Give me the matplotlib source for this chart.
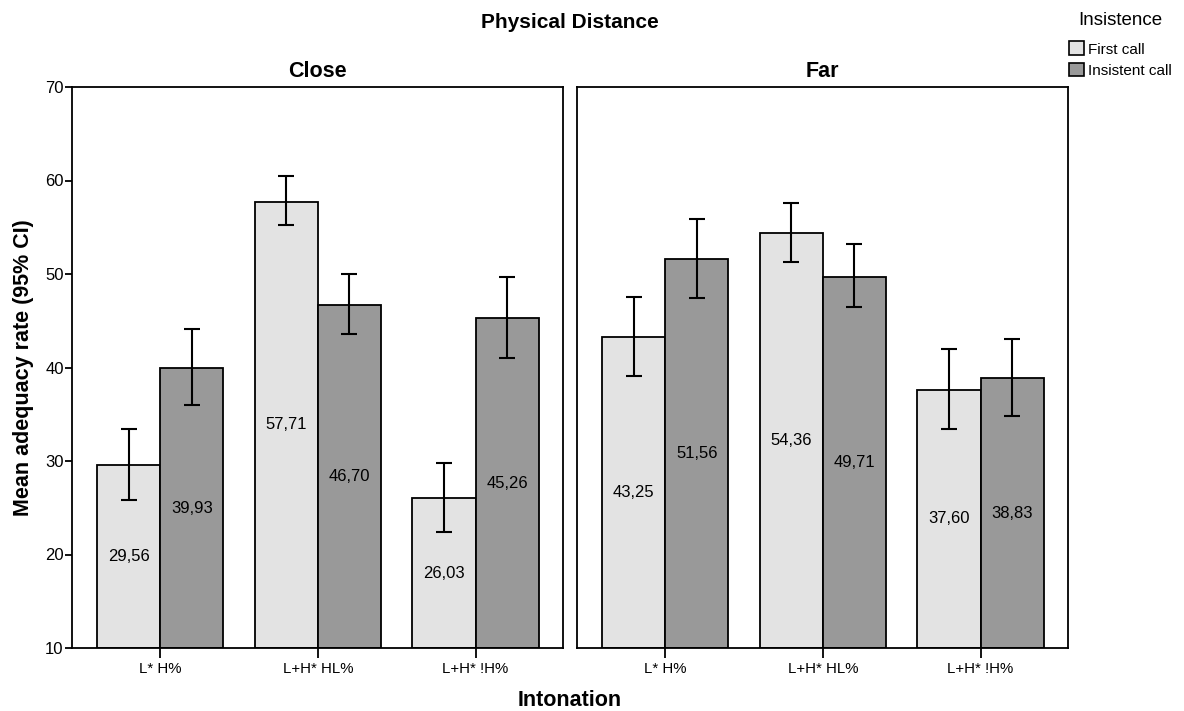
import numpy as np
import matplotlib
matplotlib.use("Agg")
import matplotlib.pyplot as plt
from matplotlib.patches import Patch

plt.rcParams['font.family'] = ['Liberation Sans', 'DejaVu Sans']

intonations = ["L* H%", "L+H* HL%", "L+H* !H%"]
panels = ["Close", "Far"]
series = ["First call", "Insistent call"]

# means per panel: [first call], [insistent call]
close_first = [29.56, 57.71, 26.03]
close_insist = [39.93, 46.70, 45.26]
far_first = [43.25, 54.36, 37.60]
far_insist = [51.56, 49.71, 38.83]

# 95% CI bounds
close_first_lo = [25.8, 55.2, 22.4]
close_first_hi = [33.4, 60.5, 29.8]
close_insist_lo = [36.0, 43.6, 41.0]
close_insist_hi = [44.1, 50.0, 49.7]
far_first_lo = [39.1, 51.3, 33.4]
far_first_hi = [47.5, 57.6, 42.0]
far_insist_lo = [47.4, 46.5, 34.8]
far_insist_hi = [55.9, 53.2, 43.0]

colors = ["#e3e3e3", "#999999"]
ymin, ymax = 10, 70
bw = 0.4

fig = plt.figure(figsize=(11.84, 7.11), dpi=100)
ax_l = fig.add_axes([72/1184, 1-648/711, 491/1184, 561/711])
ax_r = fig.add_axes([577/1184, 1-648/711, 491/1184, 561/711])

data = {
    "Close": [(close_first, close_first_lo, close_first_hi),
              (close_insist, close_insist_lo, close_insist_hi)],
    "Far": [(far_first, far_first_lo, far_first_hi),
            (far_insist, far_insist_lo, far_insist_hi)],
}

x = np.arange(len(intonations))
for ax, name in zip([ax_l, ax_r], panels):
    for k, (vals, lo, hi) in enumerate(data[name]):
        vals = np.array(vals)
        pos = x - bw/2 + k*bw
        ax.bar(pos, vals - ymin, bottom=ymin, width=bw, color=colors[k],
               edgecolor="black", linewidth=1.3, zorder=2)
        err = np.array([vals - np.array(lo), np.array(hi) - vals])
        ax.errorbar(pos, vals, yerr=err, fmt="none", ecolor="black",
                    elinewidth=1.5, capsize=6, capthick=1.5, zorder=3)
        for p, v in zip(pos, vals):
            ax.text(p, (ymin + v)/2, f"{v:.2f}".replace(".", ","),
                    ha="center", va="center", fontsize=12, zorder=4)
    ax.set_xlim(-0.56, 2.555)
    ax.set_ylim(ymin, ymax)
    ax.set_xticks(x)
    ax.set_xticklabels(intonations, fontsize=10.8)
    ax.tick_params(axis="x", direction="out", length=7, width=1.3, pad=3)
    for s in ax.spines.values():
        s.set_linewidth(1.3)
    ax.set_title(name, fontsize=15.5, fontweight="bold", pad=7)

ax_l.set_yticks(range(10, 71, 10))
ax_l.tick_params(axis="y", direction="out", length=5, width=1.3, labelsize=12, pad=1)
ax_r.set_yticks([])

ax_l.set_ylabel("Mean adequacy rate (95% CI)", fontsize=15.5, fontweight="bold", labelpad=8)
fig.text(570/1184, 1-700/711, "Intonation", ha="center", va="center",
         fontsize=15.5, fontweight="bold")
fig.text(570/1184, 1-22/711, "Physical Distance", ha="center", va="center",
         fontsize=15, fontweight="bold")

handles = [Patch(facecolor=c, edgecolor="black", linewidth=1.2) for c in colors]
leg = fig.legend(handles, series, title="Insistence", loc="upper left",
                 bbox_to_anchor=(1069/1184, 1-12/711), frameon=False, fontsize=11,
                 title_fontsize=13.5, handlelength=0.95, handleheight=1.0,
                 handletextpad=0.3, labelspacing=0.4, borderaxespad=0,
                 borderpad=0)
leg._legend_box.sep = 9

fig.savefig("out.png", dpi=100)
